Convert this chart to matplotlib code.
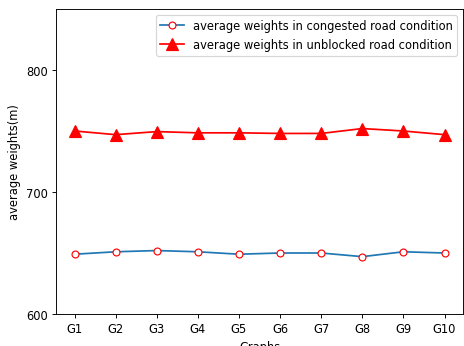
# Average weights per graph under two road conditions.

import matplotlib.pyplot as plt

graphs = ['G1', 'G2', 'G3', 'G4', 'G5', 'G6', 'G7', 'G8', 'G9', 'G10']
congested = [649, 651, 652, 651, 649, 650, 650, 647, 651, 650]
unblocked = [750, 747, 749.5, 748.5, 748.5, 748, 748, 752, 750, 747]

dpi = 83
fig = plt.figure(figsize=(464 / dpi, 347 / dpi), dpi=dpi)
ax = fig.add_axes([56 / 464, 32 / 347, 407 / 464, 305 / 347])

ax.plot(graphs, congested, color='C0', marker='o', markersize=6,
        markerfacecolor='white', markeredgecolor='red',
        label='average weights in congested road condition')
ax.plot(graphs, unblocked, color='red', marker='^', markersize=10,
        label='average weights in unblocked road condition')

ax.set_ylim(600, 850)
ax.set_yticks([600, 700, 800])
ax.set_xlabel('Graphs')
ax.set_ylabel('average weights(m)')
ax.legend(loc='upper right')

fig.savefig('out.png', dpi=dpi)
